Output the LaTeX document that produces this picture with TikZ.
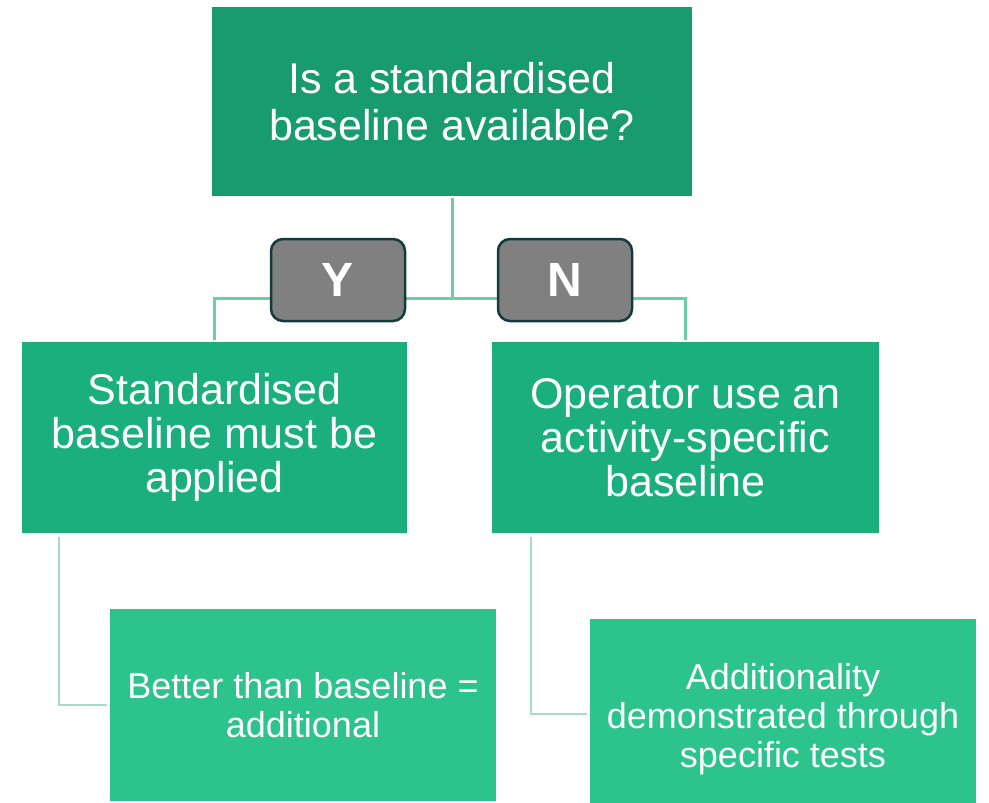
\documentclass[tikz,border=0pt]{standalone}
\usepackage{fontspec}
\setmainfont{Liberation Sans}
\definecolor{topgreen}{HTML}{189B6F}
\definecolor{midgreen}{HTML}{1BAF7E}
\definecolor{lowgreen}{HTML}{2CC38D}
\definecolor{hubline}{HTML}{6ACFA3}
\definecolor{leafline}{HTML}{A6DCC6}
\definecolor{tagfill}{HTML}{808080}
\definecolor{tagedge}{HTML}{143A3B}
\tikzset{
  box/.style={rectangle, inner sep=4pt, text=white, align=center},
  bigtext/.style={font=\fontsize{43}{47}\selectfont},
  midtext/.style={font=\fontsize{43}{44}\selectfont},
  smalltext/.style={font=\fontsize{36}{39}\selectfont},
  tag/.style={rectangle, rounded corners=12pt, fill=tagfill, draw=tagedge,
    line width=2.5pt, minimum width=134pt, minimum height=82pt, text=white,
    font=\fontsize{48}{50}\selectfont\bfseries},
  hub/.style={draw=hubline, line width=3pt},
  leaf/.style={draw=leafline, line width=2.5pt}
}
\begin{document}
\begin{tikzpicture}[x=1pt,y=-1pt]
\useasboundingbox (0,0) rectangle (989,803);
% question and the two outcomes
\node[box, bigtext, fill=topgreen, minimum width=480pt, minimum height=189pt] (q) at (452,101.5)
  {Is a standardised\\baseline available?};
\node[box, midtext, fill=midgreen, minimum width=385pt, minimum height=191pt] (yes) at (214.5,437.5)
  {Standardised\\baseline must be\\applied};
\node[box, midtext, fill=midgreen, minimum width=387pt, minimum height=191pt] (no) at (685.5,437.5)
  {Operator use an\\activity-specific\\baseline};
% consequences
\node[box, smalltext, fill=lowgreen, minimum width=386pt, minimum height=192pt] (better) at (303,705)
  {Better than baseline =\\additional};
\node[box, smalltext, fill=lowgreen, minimum width=386pt, minimum height=200pt] (tests) at (783,719)
  {Additionality\\demonstrated through\\specific tests};
% branching lines
\coordinate (fork) at (452,298);
\draw[hub] ([yshift=-2pt]q.south) -- (fork);
\draw[hub] (fork) -| ([yshift=2pt]yes.north);
\draw[hub] (fork) -| ([yshift=2pt]no.north);
\draw[leaf] ([yshift=-4pt]yes.south -| 59,0) |- ([xshift=-3pt]better.west);
\draw[leaf] ([yshift=-4pt]no.south -| 531,0) |- ([xshift=-3pt,yshift=5pt]tests.west);
% yes / no tags over the lines
\node[tag] (ytag) at (338,280) {Y};
\node[tag] (ntag) at (565,280) {N};
\end{tikzpicture}
\end{document}
